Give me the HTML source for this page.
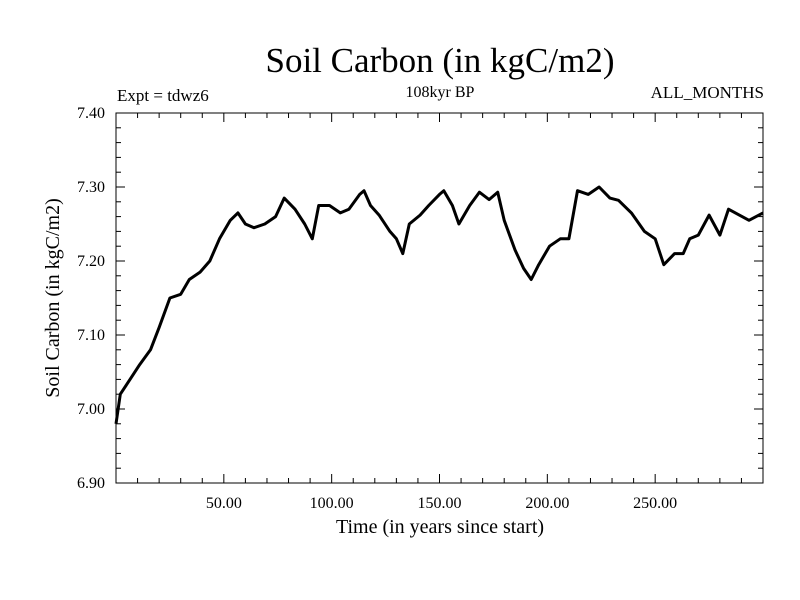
<!DOCTYPE html>
<html><head><meta charset="utf-8"><style>
body{margin:0;background:#fff}
svg{display:block;font-family:"Liberation Serif",serif}
</style></head><body>
<svg id="chart" width="800" height="600" xmlns="http://www.w3.org/2000/svg">
<rect width="800" height="600" fill="#fff"/>
<text x="440" y="72" font-size="35" text-anchor="middle">Soil Carbon (in kgC/m2)</text>
<text x="440" y="97" font-size="16" text-anchor="middle">108kyr BP</text>
<text x="117" y="101" font-size="17">Expt = tdwz6</text>
<text x="764" y="98" font-size="17" text-anchor="end">ALL_MONTHS</text>
<text x="440" y="533" font-size="20" text-anchor="middle">Time (in years since start)</text>
<text transform="translate(59,298) rotate(-90)" font-size="20" text-anchor="middle">Soil Carbon (in kgC/m2)</text>
<g id="axes"></g>
<path id="series" fill="none" stroke="#000" stroke-width="3" stroke-linejoin="round"/>
<rect x="116" y="113" width="647" height="370" fill="none" stroke="#000" stroke-width="1"/>
</svg>
<script>
const years=[0,2,6.5,11,16,20,25,30,34,39,43.5,48,53,56.5,60,64,69,74,78,83,87.5,91,94,99,104,108,113,115,118,122,127,130,133,136,141,145,150,152,156,159,164,168.5,173,177,180,185,189,192.5,196,201,206,210,214,219,224,229,233,239,245,250,254,259,263,266,270,275,280,284,289,293.5,300];
const values=[6.98,7.02,7.04,7.06,7.08,7.11,7.15,7.155,7.175,7.185,7.2,7.23,7.255,7.265,7.25,7.245,7.25,7.26,7.285,7.27,7.25,7.23,7.275,7.275,7.265,7.27,7.29,7.295,7.275,7.262,7.24,7.23,7.21,7.25,7.262,7.275,7.29,7.295,7.275,7.25,7.275,7.293,7.283,7.293,7.255,7.215,7.19,7.175,7.195,7.22,7.23,7.23,7.295,7.29,7.3,7.285,7.282,7.265,7.24,7.23,7.195,7.21,7.21,7.23,7.235,7.262,7.235,7.27,7.262,7.255,7.265];
const xTicks=[50,100,150,200,250];
const xTickLabels=["50.00","100.00","150.00","200.00","250.00"];
const yTicks=[6.9,7.0,7.1,7.2,7.3,7.4];
const yTickLabels=["6.90","7.00","7.10","7.20","7.30","7.40"];
const X0=116,X1=763,Y0=483,Y1=113;
function sx(v){return X0+(v-0)/(300-0)*(X1-X0);}
function sy(v){return Y0-(v-6.9)/(7.4-6.9)*(Y0-Y1);}
const NS="http://www.w3.org/2000/svg";
const axes=document.getElementById('axes');
function line(x1,y1,x2,y2,name){const l=document.createElementNS(NS,'line');
l.setAttribute('x1',x1);l.setAttribute('y1',y1);l.setAttribute('x2',x2);l.setAttribute('y2',y2);l.setAttribute('stroke','#000');


axes.appendChild(l);}
function text(x,y,s,anchor,name){const t=document.createElementNS(NS,'text');
t.setAttribute('x',x);t.setAttribute('y',y);t.setAttribute('font-size','16');t.setAttribute('text-anchor',anchor);t.textContent=s;


axes.appendChild(t);}
for(let v=10;v<300;v+=10){const major=v%50===0;const x=sx(v);
line(x,Y0,x,Y0-(major?9:5),'x-tick');line(x,Y1,x,Y1+(major?9:5),'x-tick-top');}
xTicks.forEach((v,i)=>text(sx(v),508,xTickLabels[i],'middle','x-tick-label'));
for(let k=0;k<=25;k++){const v=6.9+k*0.02;const major=k%5===0;const y=sy(v);
line(X0,y,X0+(major?9:5),y,'y-tick');line(X1,y,X1-(major?9:5),y,'y-tick-right');}
yTicks.forEach((v,i)=>text(105,sy(v)+5,yTickLabels[i],'end','y-tick-label'));
let d='';years.forEach((v,i)=>{d+=(i?'L':'M')+sx(v).toFixed(1)+','+sy(values[i]).toFixed(1);});
document.getElementById('series').setAttribute('d',d);
</script>
</body></html>
